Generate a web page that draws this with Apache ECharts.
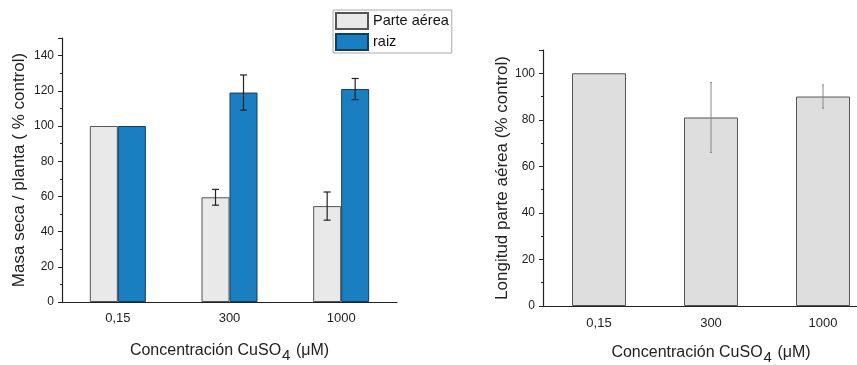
<!DOCTYPE html>
<html><head><meta charset="utf-8">
<script src="https://cdn.jsdelivr.net/npm/echarts@6/dist/echarts.min.js"></script>
<style>html,body{margin:0;padding:0;background:#fff}#c{width:857px;height:365px}</style>
</head><body><div id="c"></div>
<script>
// ---- data ----
const categories = ['0,15', '300', '1000'];
const masaParteAerea = [100, 59.5, 54.5];
const masaParteAereaErr = [0, 4.5, 8];
const masaRaiz = [100, 119, 121];
const masaRaizErr = [0, 10, 6];
const longitudParteAerea = [100, 81, 90];
const longitudParteAereaErr = [0, 15, 5];
const leftTicks = [0, 20, 40, 60, 80, 100, 120, 140];
const rightTicks = [0, 20, 40, 60, 80, 100];

const font = 'Liberation Sans, Arial, sans-serif';
const chart = echarts.init(document.getElementById('c'));

function errData(vals, errs) { return vals.map((v, i) => [i, v - errs[i], v + errs[i]]); }
function errSeries(name, xi, yi, vals, errs, offset, color, cap, lw) {
  return {
    type: 'custom', name: name, xAxisIndex: xi, yAxisIndex: yi, z: 10,
    data: errData(vals, errs),
    encode: { x: 0, y: [1, 2] },
    renderItem: function (params, api) {
      if (api.value(2) === api.value(1)) return null;
      const lo = api.coord([api.value(0), api.value(1)]);
      const hi = api.coord([api.value(0), api.value(2)]);
      const x = lo[0] + offset;
      const st = { stroke: color, lineWidth: lw };
      const ch = [{ type: 'line', shape: { x1: x, y1: lo[1], x2: x, y2: hi[1] }, style: st }];
      if (cap > 0) {
        ch.push({ type: 'line', shape: { x1: x - cap, y1: lo[1], x2: x + cap, y2: lo[1] }, style: st });
        ch.push({ type: 'line', shape: { x1: x - cap, y1: hi[1], x2: x + cap, y2: hi[1] }, style: st });
      }
      return { type: 'group', children: ch };
    }
  };
}

const xName = 'Concentración CuSO{s|4} ({m|μ}M)';
const xNameRich = {
  s: { fontSize: 15, fontFamily: font, color: '#222', padding: [10, 1, 0, 1] },
  m: { fontSize: 16, fontFamily: font, color: '#222' }
};
function xAxisCfg(gi) {
  return {
    type: 'category', gridIndex: gi, data: categories,
    axisLine: { lineStyle: { color: '#222', width: 1.2 } },
    axisTick: { alignWithLabel: true, length: 4, lineStyle: { color: '#222' } },
    axisLabel: { fontFamily: font, fontSize: 13, color: '#222', margin: gi === 0 ? 10 : 11 },
    name: xName, nameLocation: 'middle', nameGap: gi === 0 ? 36 : 34,
    nameTextStyle: { fontFamily: font, fontSize: 16, color: '#222', rich: xNameRich }
  };
}
function yAxisCfg(gi, max, name, gap) {
  return {
    type: 'value', gridIndex: gi, min: 0, max: max, interval: 20,
    axisLine: { show: true, lineStyle: { color: '#222', width: 1.2 } },
    axisTick: { show: true, inside: false, length: 4, lineStyle: { color: '#222' } },
    minorTick: { show: true, splitNumber: 2, length: 2, lineStyle: { color: '#222' } },
    splitLine: { show: false },
    axisLabel: { fontFamily: font, fontSize: 12, color: '#222', margin: 8,
      formatter: function (v) { return (gi === 0 ? leftTicks : rightTicks).indexOf(v) >= 0 ? String(v) : ''; } },
    name: name, nameLocation: 'middle', nameGap: gap, nameRotate: 90,
    nameTextStyle: { fontFamily: font, fontSize: 17, color: '#222' }
  };
}

const option = {
  animation: false,
  backgroundColor: '#fff',
  grid: [
    { left: 62, top: 38, width: 335, height: 264, outerBoundsMode: 'none', containLabel: false },
    { left: 543, top: 50, width: 336, height: 256, outerBoundsMode: 'none', containLabel: false }
  ],
  legend: {
    data: ['Parte aérea', 'raiz'], orient: 'vertical', left: 333, top: 10,
    icon: 'rect', itemWidth: 32, itemHeight: 16, itemGap: 3,
    borderColor: '#aaa', borderWidth: 1, padding: [2, 3, 2, 2],
    textStyle: { fontFamily: font, fontSize: 14.5, color: '#111', padding: [0, 0, 0, 0] }
  },
  xAxis: [xAxisCfg(0), xAxisCfg(1)],
  yAxis: [
    yAxisCfg(0, 150, 'Masa seca / planta ( % control)', 34),
    yAxisCfg(1, 110, 'Longitud parte aérea (% control)', 32)
  ],
  series: [
    { type: 'bar', name: 'Parte aérea', xAxisIndex: 0, yAxisIndex: 0, data: masaParteAerea,
      barWidth: 28, barGap: '0%',
      itemStyle: { color: '#e9e9e9', borderColor: '#555', borderWidth: 1 } },
    { type: 'bar', name: 'raiz', xAxisIndex: 0, yAxisIndex: 0, data: masaRaiz,
      barWidth: 28, barGap: '0%',
      itemStyle: { color: '#1a7fc1', borderColor: '#123d63', borderWidth: 1 } },
    errSeries('errPA', 0, 0, masaParteAerea, masaParteAereaErr, -14, '#222', 3.5, 1.2),
    errSeries('errR', 0, 0, masaRaiz, masaRaizErr, 14, '#222', 3.5, 1.2),
    { type: 'bar', name: 'Longitud', xAxisIndex: 1, yAxisIndex: 1, data: longitudParteAerea,
      barWidth: 54,
      itemStyle: { color: '#dedede', borderColor: '#555', borderWidth: 1 } },
    errSeries('errL', 1, 1, longitudParteAerea, longitudParteAereaErr, 0, '#888', 1, 1)
  ]
};
chart.setOption(option);
</script></body></html>
